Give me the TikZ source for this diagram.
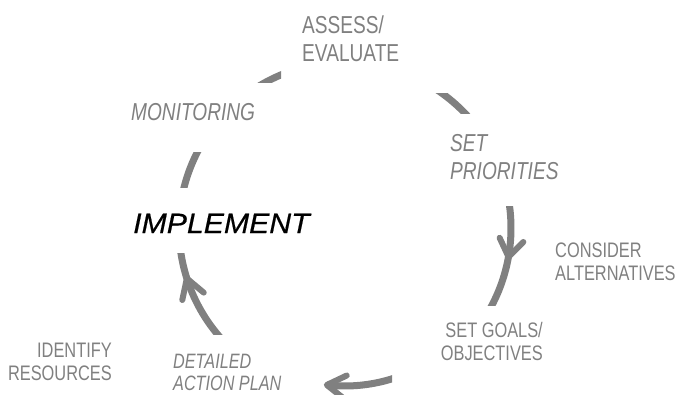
\documentclass[tikz,border=0pt]{standalone}
\usepackage{fontspec}
\usetikzlibrary{calc}
\setmainfont{Liberation Sans}
\newfontfamily\condfont[FakeStretch=0.78]{Liberation Sans}
\newfontfamily\implfont[FakeStretch=1.08,FakeBold=0.5]{Liberation Sans}
\definecolor{cyc}{HTML}{808080}
\begin{document}
\begin{tikzpicture}[x=1pt,y=-1pt,
  seg/.style={draw=cyc,line width=7pt},
  barb/.style={draw=cyc,line width=6pt,line cap=round,line join=round},
  big/.style={text=cyc,inner sep=0pt,font=\condfont\fontsize{24.5}{28}\selectfont},
  bigit/.style={text=cyc,inner sep=0pt,font=\condfont\itshape\fontsize{24.5}{28}\selectfont},
  small/.style={text=cyc,inner sep=0pt,font=\condfont\fontsize{21}{23}\selectfont},
  smallit/.style={text=cyc,inner sep=0pt,font=\condfont\itshape\fontsize{20.8}{22}\selectfont}]
\useasboundingbox (0,0) rectangle (678,394);
\coordinate (c) at (345,228);

% top-left segment
\begin{scope}
  \clip (0,0) rectangle (281,82);
  \draw[seg] (c) ++(-130:166) arc[start angle=-130,end angle=-105,radius=166];
\end{scope}
% top-right segment
\begin{scope}
  \clip (0,93) rectangle (678,113);
  \draw[seg] (c) ++(-62:166) arc[start angle=-62,end angle=-34,radius=166];
\end{scope}
% left segment
\begin{scope}
  \clip (0,152) rectangle (678,187);
  \draw[seg] (c) ++(-145:166) arc[start angle=-145,end angle=-172,radius=166];
\end{scope}
% right arc
\begin{scope}
  \clip (0,206) rectangle (678,305);
  \draw[seg] (c) ++(-12:166) arc[start angle=-12,end angle=32,radius=166];
\end{scope}
\coordinate (ra) at ($(c)+(10:166)$);
\draw[barb] ($(ra)+(-45:21)$) -- (ra) -- ($(ra)+(-115:21)$);
% bottom arc
\begin{scope}
  \clip (0,0) rectangle (392,394);
  \draw[seg] (c) ++(68:158) arc[start angle=68,end angle=96.6,radius=158];
\end{scope}
\coordinate (ba) at ($(c)+(96.6:158)$);
\draw[barb] ($(ba)+(-25.4:22)$) -- (ba) -- ($(ba)+(38.6:22)$);
% left-bottom arc
\begin{scope}
  \clip (0,253) rectangle (678,334);
  \draw[seg] (c) ++(135:166) arc[start angle=135,end angle=176,radius=166];
\end{scope}
\coordinate (la) at ($(c)+(162.3:166)$);
\draw[barb] ($(la)+(40:22)$) -- (la) -- ($(la)+(102:22)$);

% labels (multi-line nodes anchored at the baseline of their last line)
\node[big,anchor=base west,align=left] (assess) at (302,61) {ASSESS/\\EVALUATE};
\node[bigit,anchor=base west] (monitor) at (131,120) {MONITORING};
\node[bigit,anchor=base west,align=left] (prio) at (450,179) {SET\\PRIORITIES};
\node[inner sep=0pt,anchor=base west,font=\implfont\itshape\fontsize{28}{30}\selectfont] (impl) at (133,233) {IMPLEMENT};
\node[small,anchor=base west,align=left] (consider) at (555,280) {CONSIDER\\ALTERNATIVES};
\node[small,anchor=base east,align=right] (goals) at (543,360) {SET GOALS/\\OBJECTIVES};
\node[small,anchor=base east,align=right] (identify) at (112,380) {IDENTIFY\\RESOURCES};
\node[smallit,anchor=base west,align=left] (detail) at (173,390) {DETAILED\\ACTION PLAN};
\end{tikzpicture}
\end{document}
